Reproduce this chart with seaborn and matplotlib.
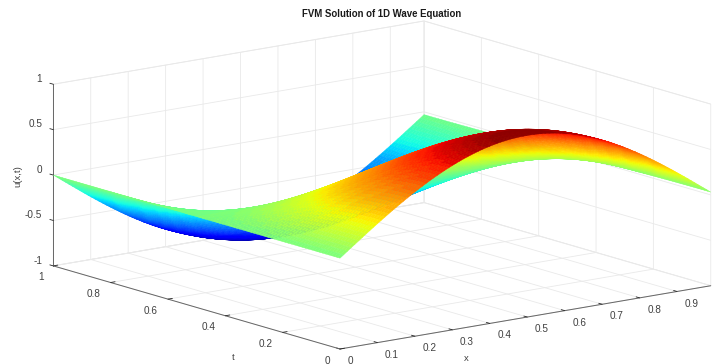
import numpy as np
import seaborn as sns
import matplotlib.pyplot as plt
from matplotlib.colors import ListedColormap

# Values: surface shape along x (at t=0) and how it swings along t
x_values = [0.00, 0.01, 0.02, 0.03, 0.04, 0.05, 0.06, 0.07, 0.08, 0.09,
            0.10, 0.11, 0.12, 0.13, 0.14, 0.15, 0.16, 0.17, 0.18, 0.19,
            0.20, 0.21, 0.22, 0.23, 0.24, 0.25, 0.26, 0.27, 0.28, 0.29,
            0.30, 0.31, 0.32, 0.33, 0.34, 0.35, 0.36, 0.37, 0.38, 0.39,
            0.40, 0.41, 0.42, 0.43, 0.44, 0.45, 0.46, 0.47, 0.48, 0.49,
            0.50, 0.51, 0.52, 0.53, 0.54, 0.55, 0.56, 0.57, 0.58, 0.59,
            0.60, 0.61, 0.62, 0.63, 0.64, 0.65, 0.66, 0.67, 0.68, 0.69,
            0.70, 0.71, 0.72, 0.73, 0.74, 0.75, 0.76, 0.77, 0.78, 0.79,
            0.80, 0.81, 0.82, 0.83, 0.84, 0.85, 0.86, 0.87, 0.88, 0.89,
            0.90, 0.91, 0.92, 0.93, 0.94, 0.95, 0.96, 0.97, 0.98, 0.99]
t_values = [0.00, 0.01, 0.02, 0.03, 0.04, 0.05, 0.06, 0.07, 0.08, 0.09,
            0.10, 0.11, 0.12, 0.13, 0.14, 0.15, 0.16, 0.17, 0.18, 0.19,
            0.20, 0.21, 0.22, 0.23, 0.24, 0.25, 0.26, 0.27, 0.28, 0.29,
            0.30, 0.31, 0.32, 0.33, 0.34, 0.35, 0.36, 0.37, 0.38, 0.39,
            0.40, 0.41, 0.42, 0.43, 0.44, 0.45, 0.46, 0.47, 0.48, 0.49,
            0.50, 0.51, 0.52, 0.53, 0.54, 0.55, 0.56, 0.57, 0.58, 0.59,
            0.60, 0.61, 0.62, 0.63, 0.64, 0.65, 0.66, 0.67, 0.68, 0.69,
            0.70, 0.71, 0.72, 0.73, 0.74, 0.75, 0.76, 0.77, 0.78, 0.79,
            0.80, 0.81, 0.82, 0.83, 0.84, 0.85, 0.86, 0.87, 0.88, 0.89,
            0.90, 0.91, 0.92, 0.93, 0.94, 0.95, 0.96, 0.97, 0.98, 0.99, 1.00]
profile_x = [0.000, 0.031, 0.063, 0.094, 0.125, 0.156, 0.187, 0.218, 0.249, 0.279,
             0.309, 0.339, 0.368, 0.397, 0.426, 0.454, 0.482, 0.509, 0.536, 0.562,
             0.588, 0.613, 0.637, 0.661, 0.685, 0.707, 0.729, 0.750, 0.771, 0.790,
             0.809, 0.827, 0.844, 0.861, 0.876, 0.891, 0.905, 0.918, 0.930, 0.941,
             0.951, 0.960, 0.969, 0.976, 0.982, 0.988, 0.992, 0.995, 0.998, 0.999,
             1.000, 0.999, 0.998, 0.995, 0.992, 0.988, 0.982, 0.976, 0.969, 0.960,
             0.951, 0.941, 0.930, 0.918, 0.905, 0.891, 0.876, 0.861, 0.844, 0.827,
             0.809, 0.790, 0.771, 0.750, 0.729, 0.707, 0.685, 0.661, 0.637, 0.613,
             0.588, 0.562, 0.536, 0.509, 0.482, 0.454, 0.426, 0.397, 0.368, 0.339,
             0.309, 0.279, 0.249, 0.218, 0.187, 0.156, 0.125, 0.094, 0.063, 0.031]
swing_t = [1.000, 0.999, 0.998, 0.995, 0.992, 0.988, 0.982, 0.976, 0.969, 0.960,
           0.951, 0.941, 0.930, 0.918, 0.905, 0.891, 0.876, 0.861, 0.844, 0.827,
           0.809, 0.790, 0.771, 0.750, 0.729, 0.707, 0.685, 0.661, 0.637, 0.613,
           0.588, 0.562, 0.536, 0.509, 0.482, 0.454, 0.426, 0.397, 0.368, 0.339,
           0.309, 0.279, 0.249, 0.218, 0.187, 0.156, 0.125, 0.094, 0.063, 0.031,
           0.000, -0.031, -0.063, -0.094, -0.125, -0.156, -0.187, -0.218, -0.249, -0.279,
           -0.309, -0.339, -0.368, -0.397, -0.426, -0.454, -0.482, -0.509, -0.536, -0.562,
           -0.588, -0.613, -0.637, -0.661, -0.685, -0.707, -0.729, -0.750, -0.771, -0.790,
           -0.809, -0.827, -0.844, -0.861, -0.876, -0.891, -0.905, -0.918, -0.930, -0.941,
           -0.951, -0.960, -0.969, -0.976, -0.982, -0.988, -0.992, -0.995, -0.998, -0.999,
           -1.000]

x_ticks = [0, 0.1, 0.2, 0.3, 0.4, 0.5, 0.6, 0.7, 0.8, 0.9]
x_tick_labels = ["0", "0.1", "0.2", "0.3", "0.4", "0.5", "0.6", "0.7", "0.8", "0.9"]
t_ticks = [0, 0.2, 0.4, 0.6, 0.8, 1]
t_tick_labels = ["0", "0.2", "0.4", "0.6", "0.8", "1"]
u_ticks = [-1, -0.5, 0, 0.5, 1]
u_tick_labels = ["-1", "-0.5", "0", "0.5", "1"]

sns.set_theme(style="white")
plt.rcParams["font.family"] = ["Liberation Sans", "DejaVu Sans"]

TEXT = "#404040"
GRID = "#e9e9e9"

X, T = np.meshgrid(x_values, t_values)
U = np.outer(swing_t, profile_x)

fig = plt.figure(figsize=(7.18, 3.64), dpi=100)
side = 800
ax = fig.add_axes([-28.8 / 718, -231.8 / 364, side / 718, side / 364], projection="3d")
ax.patch.set_alpha(0)
ax.set_proj_type("ortho")
ax.view_init(elev=12.85, azim=-127.5)
ax.set_box_aspect((1, 1.008, 0.3987), zoom=669 / side)

jet = ListedColormap(sns.mpl_palette("jet", 64))
surf = ax.plot_surface(X, T, U, cmap=jet, vmin=-1, vmax=1, rstride=1, cstride=1,
                       linewidth=0.3, antialiased=True, shade=False)
surf.set_edgecolor("face")

ax.set_xlim(0, 0.99, view_margin=0)
ax.set_ylim(0, 1, view_margin=0)
ax.set_zlim(-1, 1, view_margin=0)
ax.set_xticks(x_ticks, x_tick_labels, ha="left")
ax.set_yticks(t_ticks, t_tick_labels, ha="right")
ax.set_zticks(u_ticks, u_tick_labels, ha="right", va="bottom")
ax.tick_params(labelsize=7.2, labelcolor=TEXT, pad=0)
ax.tick_params(axis="z", pad=-3)

# z ticks point along t in the reference, not along x
ax.zaxis._AXINFO["z"]["tickdir"] = 1

for axis in (ax.xaxis, ax.yaxis, ax.zaxis):
    axis.set_pane_color((1, 1, 1, 1))
    axis.pane.set_edgecolor(GRID)
    axis.pane.set_linewidth(0.6)
    axis.line.set_color("#666666")
    axis.line.set_linewidth(0.7)
    axis._axinfo["grid"].update(color=GRID, linewidth=0.6)
    axis._axinfo["tick"].update(color="#666666", linewidth={True: 0.6, False: 0.6},
                                inward_factor=0, outward_factor=0.15)

fig.text(382 / 718, 1 - 14 / 364, "FVM Solution of 1D Wave Equation", ha="center", va="center",
         fontsize=6.9, fontweight="bold", color="#1a1a1a")
fig.text(466.5 / 718, 1 - 358.5 / 364, "x", ha="center", va="center", fontsize=6.8, color=TEXT)
fig.text(233 / 718, 1 - 357 / 364, "t", ha="center", va="center", fontsize=6.8, color=TEXT)
fig.text(18 / 718, 1 - 176 / 364, "u(x,t)", ha="center", va="center", rotation=90,
         fontsize=6.8, color=TEXT)

fig.savefig("out.png", dpi=100)
